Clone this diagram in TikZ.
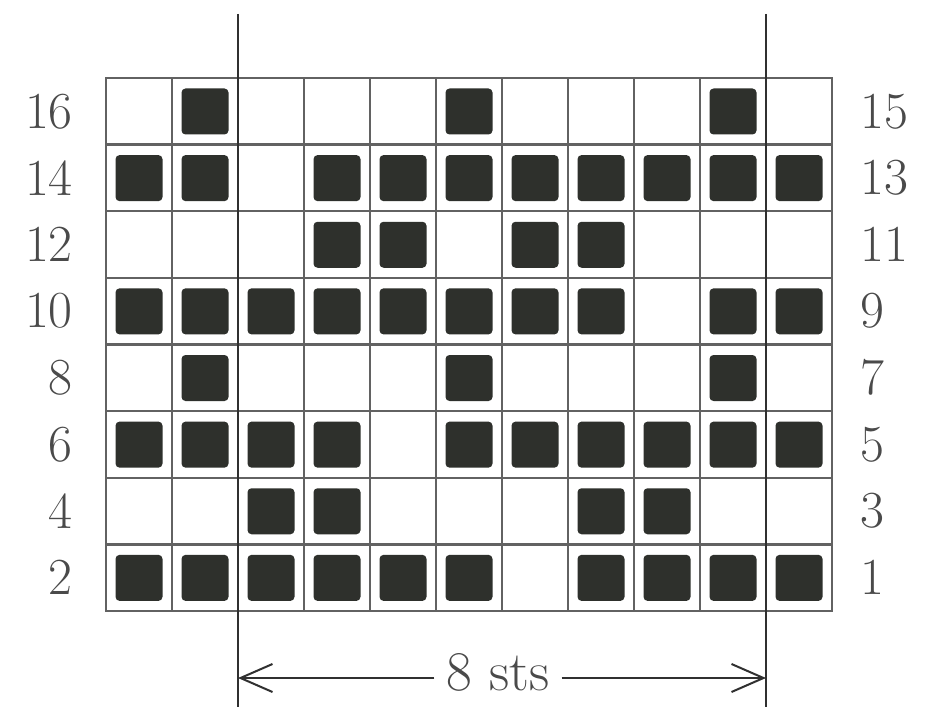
\documentclass[tikz,border=0pt]{standalone}
\usetikzlibrary{arrows.meta}
\definecolor{gridc}{HTML}{626262}
\definecolor{markc}{HTML}{2E302C}
\definecolor{textc}{HTML}{4A4A4A}
\definecolor{linec}{HTML}{303030}
\begin{document}
\begin{tikzpicture}[x=1pt,y=-1pt,
  gridline/.style={draw=gridc,line width=2.3pt},
  stitch/.style={fill=markc,rounded corners=4pt},
  guide/.style={draw=linec,line width=2.6pt},
  rowlabel/.style={text=textc,font=\fontsize{52}{52}\selectfont,inner sep=0pt},
  measure/.style={draw=linec,line width=2pt,-{Straight Barb[length=32pt,width=28pt,line width=2pt]}}]
\useasboundingbox (0,0) rectangle (942,714);
\fill[white] (0,0) rectangle (942,714);
% grid
\foreach \i in {0,...,11} \draw[gridline] ({106+66*\i},78) -- ({106+66*\i},611);
\foreach \j in {0,...,8} \draw[gridline] (105,{78+66.625*\j}) -- (833,{78+66.625*\j});
% filled stitches
\foreach \r/\cols in {0/{2,6,10},
                      1/{1,2,4,5,6,7,8,9,10,11},
                      2/{4,5,7,8},
                      3/{1,2,3,4,5,6,7,8,10,11},
                      4/{2,6,10},
                      5/{1,2,3,4,6,7,8,9,10,11},
                      6/{3,4,8,9},
                      7/{1,2,3,4,5,6,8,9,10,11}}{
  \foreach \c in \cols {
    \fill[stitch] ({106+66*(\c-1)+9.5},{78+66.625*\r+10.5}) rectangle +(47,46);
  }
}
% row labels
\foreach \r/\l/\rr in {0/16/15,1/14/13,2/12/11,3/10/9,4/8/7,5/6/5,6/4/3,7/2/1}{
  \node[rowlabel,anchor=east] (L\l) at (73,{78+66.625*\r+33.3}) {\l};
  \node[rowlabel,anchor=west] (R\rr) at (860,{78+66.625*\r+33.3}) {\rr};
}
% guide lines
\draw[guide] (238,14) -- (238,707);
\draw[guide] (766,14) -- (766,707);
% measurement
\coordinate (la) at (238,678);
\coordinate (ra) at (766,678);
\node[rowlabel,font=\fontsize{56}{56}\selectfont,inner xsep=12pt] (sts) at (498,672) {8 sts};
\draw[measure] (sts.west |- la) -- (la);
\draw[measure] (sts.east |- ra) -- (ra);
\end{tikzpicture}
\end{document}
